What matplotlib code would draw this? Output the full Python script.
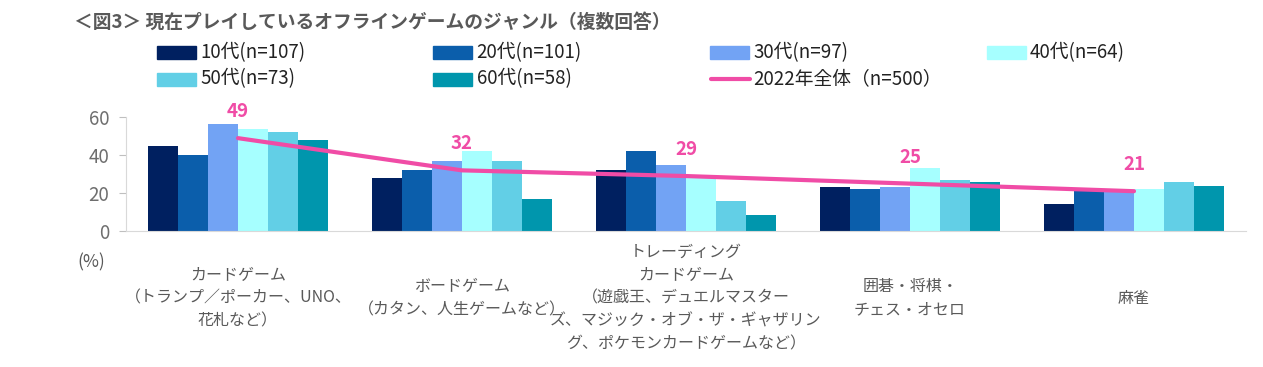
import matplotlib
matplotlib.use("Agg")
import matplotlib.pyplot as plt
from matplotlib.patches import Rectangle
from matplotlib.lines import Line2D
from matplotlib.transforms import blended_transform_factory
import numpy as np

plt.rcParams['font.family'] = ['Noto Sans CJK JP', 'DejaVu Sans']

title = "＜図3＞ 現在プレイしているオフラインゲームのジャンル（複数回答）"
categories = [
    "カードゲーム\n（トランプ／ポーカー、UNO、\n花札など）",
    "ボードゲーム\n（カタン、人生ゲームなど）",
    "トレーディング\nカードゲーム\n（遊戯王、デュエルマスター\nズ、マジック・オブ・ザ・ギャザリン\nグ、ポケモンカードゲームなど）",
    "囲碁・将棋・\nチェス・オセロ",
    "麻雀",
]
series_names = ["10代(n=107)", "20代(n=101)", "30代(n=97)", "40代(n=64)", "50代(n=73)", "60代(n=58)"]
v10 = [45, 28, 32, 23, 14]
v20 = [40, 32, 42, 22, 21]
v30 = [56.5, 37, 35, 23, 21]
v40 = [54, 42, 28, 33, 22]
v50 = [52, 37, 16, 27, 26]
v60 = [48, 17, 8.5, 26, 24]
series_values = [v10, v20, v30, v40, v50, v60]
total_name = "2022年全体（n=500）"
total = [49, 32, 29, 25, 21]
yticks = [0, 20, 40, 60]

colors = ["#002060", "#0B5EAB", "#72A3F4", "#A6FFFF", "#62CFE6", "#0096AD"]
pink = "#F04CA6"
gray = "#595959"

W, H = 1263, 367
fig = plt.figure(figsize=(W / 100, H / 100), dpi=100)
ax = fig.add_axes([126 / W, 1 - 231 / H, (1246 - 126) / W, (231 - 117.3) / H])

x = np.arange(len(categories))
bw = 0.8 / len(series_values)
for i, (vals, c) in enumerate(zip(series_values, colors)):
    ax.bar(x + (i - 2.5) * bw, vals, width=bw, color=c, label=series_names[i], zorder=2)

ax.plot(x, total, color=pink, lw=3, solid_capstyle='round', zorder=3)
for xi, v in zip(x, total):
    ax.annotate(f"{v}", (xi, v), xytext=(0, 19), textcoords='offset points',
                ha='center', va='center', color=pink, fontsize=13.5, fontweight='bold',
                annotation_clip=False)

ax.set_xlim(-0.5, 4.5)
ax.set_ylim(0, 60)
ax.set_yticks(yticks)
ax.set_xticks([])
for s in ['top', 'right']:
    ax.spines[s].set_visible(False)
ax.spines['left'].set_color('#D9D9D9')
ax.spines['bottom'].set_color('#D9D9D9')
ax.tick_params(axis='y', colors='#BFBFBF', labelcolor='#6E6E6E', labelsize=13.5, length=5, pad=7)

trans = blended_transform_factory(ax.transData, ax.transAxes)
for xi, lab in zip(x, categories):
    ax.text(xi, (231 - 298) / (231 - 117.3), lab, transform=trans, ha='center', va='center',
            fontsize=11.5, color=gray, linespacing=1.46)

fig.text(77 / W, 1 - 262 / H, "(%)", fontsize=12.5, color=gray, va='center', ha='left')

fig.text(74 / W, 1 - 22 / H, title, fontsize=13.5, fontweight='bold', color=gray, va='center', ha='left')

# legend (Excel-style equal-width columns)
entries = list(zip(series_names, colors)) + [(total_name, None)]
for k, (name, c) in enumerate(entries):
    r, col = divmod(k, 4)
    x0 = 157 + col * 276.5
    yc = 52.5 + r * 26.5
    if c is not None:
        fig.add_artist(Rectangle((x0 / W, 1 - (yc + 6.5) / H), 39 / W, 13 / H,
                                 transform=fig.transFigure, color=c))
    else:
        fig.add_artist(Line2D([(x0 + 1) / W, (x0 + 40) / W], [1 - yc / H, 1 - yc / H],
                              transform=fig.transFigure, color=pink, lw=3, solid_capstyle='round'))
    fig.text((x0 + 43) / W, 1 - yc / H, name, fontsize=13.5, color='#222222', va='center', ha='left')

fig.savefig("out.png", dpi=100)
